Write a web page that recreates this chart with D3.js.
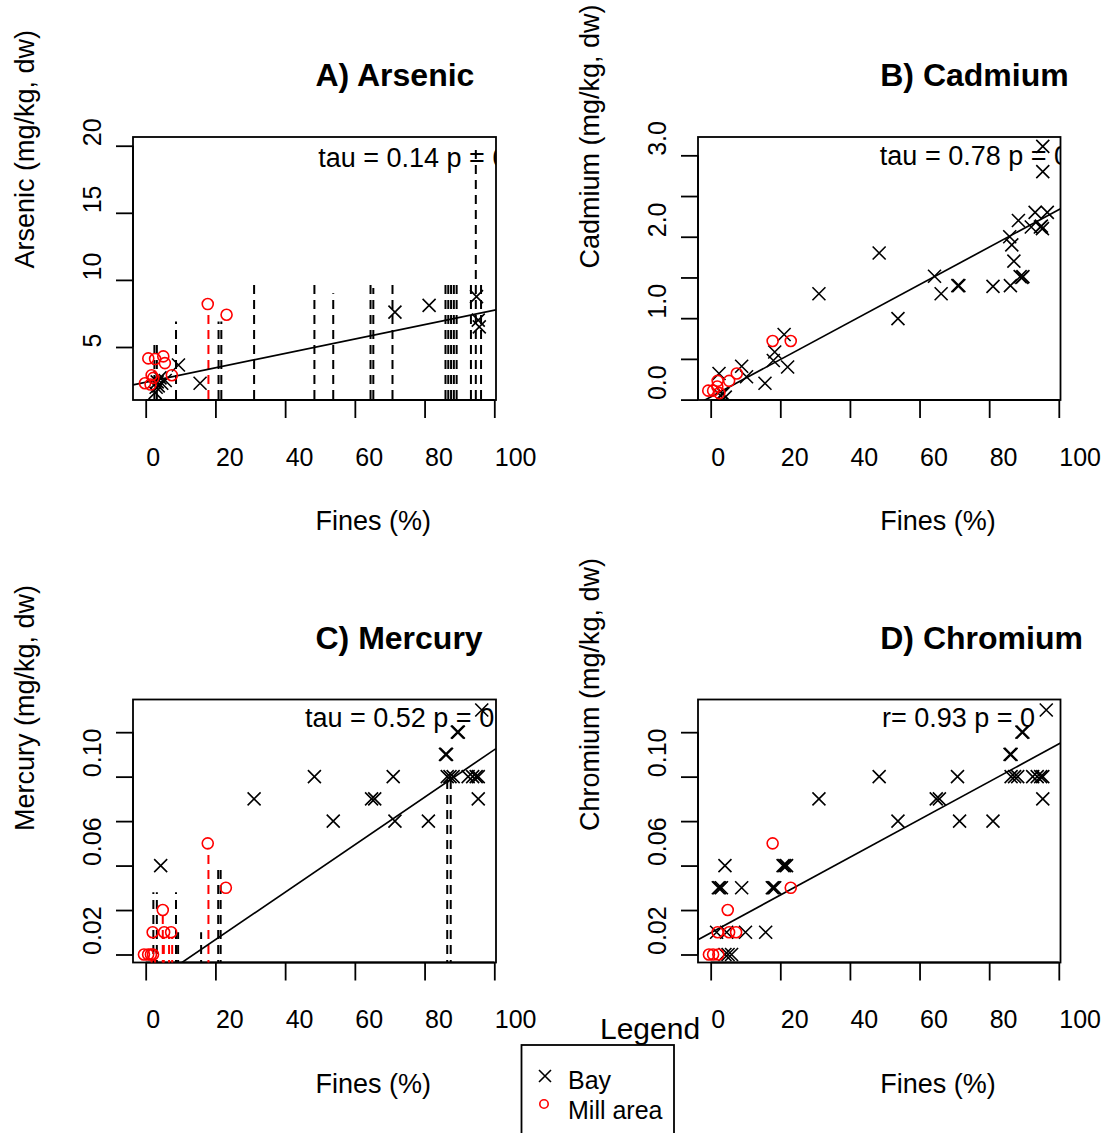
<!DOCTYPE html>
<html><head><meta charset="utf-8">
<script src="https://cdn.jsdelivr.net/npm/d3@7"></script>
<style>
body{margin:0;background:#fff}
text{font-family:"Liberation Sans",Arial,Helvetica,sans-serif;fill:#000}
</style>
</head><body>
<svg id="chart" width="1105" height="1133"></svg>
<script>
// ---------------- DATA ----------------
const xTicks = [0, 20, 40, 60, 80, 100];
const xTickLabels = ["0", "20", "40", "60", "80", "100"];
const panelTitles = ["A) Arsenic", "B) Cadmium", "C) Mercury", "D) Chromium"];
const yTitles = ["Arsenic (mg/kg, dw)", "Cadmium (mg/kg, dw)", "Mercury (mg/kg, dw)", "Chromium (mg/kg, dw)"];
const xTitle = "Fines (%)";
const statsText = ["tau = 0.14 p = 0", "tau = 0.78 p = 0", "tau = 0.52 p = 0", "r= 0.93 p = 0"];
const statsX = [49.5, 48.6, 45.7, 49.2];
const statsY = [19.1, 3.0, 0.1265, 0.1265];

const yTicksA = [5, 10, 15, 20];
const yLabelsA = ["5", "10", "15", "20"];
const yTicksB = [0, 0.5, 1, 1.5, 2, 2.5, 3];
const yLabelsB = ["0.0", "", "1.0", "", "2.0", "", "3.0"];
const yTicksC = [0.02, 0.04, 0.06, 0.08, 0.10, 0.12];
const yLabelsC = ["0.02", "", "0.06", "", "0.10", ""];
const yTicksD = [0.02, 0.04, 0.06, 0.08, 0.10, 0.12];
const yLabelsD = ["0.02", "", "0.06", "", "0.10", ""];

// Arsenic
const arsenicBay = [[2.7,1.6],[3.0,2.0],[3.6,2.1],[4.6,2.3],[5.6,2.5],[4.1,2.7],[3.3,2.4],[9.4,3.66],[15.6,2.3],
  [71.5,7.6],[81.3,8.1],[94.9,8.75],[95.4,7.0],[95.7,6.5]];
const arsenicMill = [[0.75,4.15],[2.7,4.1],[5.05,4.3],[5.5,3.8],[7.5,2.9],[-0.2,2.3],[1.7,2.9],[2.2,2.7],[1.4,2.2],
  [17.8,8.2],[23.2,7.4]];
const arsenicBayCens = [[2.5,5.6],[3.2,5.6],[8.7,6.9],[20.9,6.9],[21.7,6.9],[31.1,10],[48.4,10],[53.8,9.0],
  [64.5,10],[65.3,9.4],[70.8,10],[86.0,10],[86.8,10],[87.6,10],[88.4,10],[89.2,10],[93.3,10],[94.7,20],[96.2,10]];
const arsenicMillCens = [[18.0,7.6]];

// Cadmium
const cadmiumBay = [[48.4,1.80],[31.1,1.30],[21.1,0.80],[18.4,0.585],[18.0,0.48],[22.1,0.40],[15.6,0.20],[8.9,0.41],
  [10.3,0.28],[2.4,0.32],[2.8,0.05],[3.5,0.07],[4.2,0.03],[53.8,0.995],[64.3,1.515],[66.2,1.30],[71.0,1.40],
  [71.3,1.40],[81.1,1.39],[86.1,1.40],[85.9,2.0],[86.5,1.90],[87.1,1.70],[88.4,2.20],[88.9,1.51],[89.4,1.50],
  [89.7,1.51],[93.2,2.30],[92.1,2.12],[94.7,2.12],[95.3,2.10],[95.0,2.13],[96.7,2.30],[95.4,3.11],[95.4,2.80]];
const cadmiumMill = [[17.8,0.72],[23.0,0.72],[7.5,0.32],[5.3,0.23],[2.0,0.23],[1.9,0.16],[-0.7,0.11],[0.7,0.11],[2.5,0.08]];
const cadmiumBayCens = [];
const cadmiumMillCens = [];

// Mercury
const mercuryBay = [[4.3,0.06],[31.1,0.09],[48.4,0.10],[89.7,0.12],[89.4,0.12],[86.3,0.11],[86.0,0.11],[96.4,0.13],
  [71.0,0.10],[86.5,0.10],[87.3,0.10],[88.2,0.10],[92.5,0.10],[93.8,0.10],[94.8,0.10],[95.4,0.10],
  [64.8,0.09],[65.7,0.09],[95.4,0.09],[53.8,0.08],[71.5,0.08],[81.1,0.08]];
const mercuryMill = [[17.8,0.07],[23.0,0.05],[4.9,0.04],[2.0,0.03],[5.3,0.03],[7.3,0.03],[-0.5,0.02],[0.7,0.02],[1.5,0.02],[2.1,0.02]];
const mercuryBayCens = [[2.2,0.048],[3.2,0.048],[8.7,0.048],[9.3,0.03],[15.9,0.03],[20.8,0.06],[21.5,0.06],[86.5,0.10],[87.5,0.10]];
const mercuryMillCens = [[18.0,0.068],[4.9,0.038],[5.2,0.028],[6.7,0.028],[7.6,0.028],[1.7,0.02],[2.7,0.02]];

// Chromium
const chromiumBay = [[31.1,0.09],[48.4,0.10],[4.1,0.06],[2.2,0.05],[2.6,0.05],[3.1,0.05],[8.9,0.05],[17.7,0.05],
  [18.0,0.05],[18.4,0.05],[20.8,0.06],[21.3,0.06],[21.8,0.06],[1.7,0.03],[4.6,0.03],[10.0,0.03],[15.8,0.03],
  [4.1,0.02],[5.0,0.02],[6.0,0.02],[70.9,0.10],[53.8,0.08],[71.5,0.08],[81.1,0.08],[64.8,0.09],[65.7,0.09],
  [95.4,0.09],[86.3,0.11],[86.0,0.11],[89.7,0.12],[89.4,0.12],[96.4,0.13],[86.3,0.10],[87.3,0.10],[88.2,0.10],
  [92.5,0.10],[93.8,0.10],[94.8,0.10],[95.4,0.10]];
const chromiumMill = [[17.8,0.07],[23.0,0.05],[4.9,0.04],[2.0,0.03],[5.3,0.03],[7.3,0.03],[-0.5,0.02],[0.7,0.02],[2.2,0.02]];
const chromiumBayCens = [];
const chromiumMillCens = [];

// trend lines: [intercept, slope]
const trendA = [2.37, 0.0537];
const trendB = [0.032, 0.0230];
const trendC = [0.0053, 0.001068];
const trendD = [0.0297, 0.00085];

const legendTitle = "Legend";
const legendLabels = ["Bay", "Mill area"];

// ---------------- LAYOUT ----------------
const panels = [
  {left:133, right:496, top:137, bottom:400, xDom:[-3.64,100.49], yDom:[1.05,20.65],
   yTicks:yTicksA, yLabels:yLabelsA, bay:arsenicBay, mill:arsenicMill, bayC:arsenicBayCens, millC:arsenicMillCens, trend:trendA},
  {left:698, right:1060.5, top:137, bottom:400, xDom:[-3.64,100.49], yDom:[-0.005,3.225],
   yTicks:yTicksB, yLabels:yLabelsB, bay:cadmiumBay, mill:cadmiumMill, bayC:cadmiumBayCens, millC:cadmiumMillCens, trend:trendB},
  {left:133, right:496, top:699.5, bottom:962.5, xDom:[-3.64,100.49], yDom:[0.0164,0.1347],
   yTicks:yTicksC, yLabels:yLabelsC, bay:mercuryBay, mill:mercuryMill, bayC:mercuryBayCens, millC:mercuryMillCens, trend:trendC},
  {left:698, right:1060.5, top:699.5, bottom:962.5, xDom:[-3.64,100.49], yDom:[0.0164,0.1347],
   yTicks:yTicksD, yLabels:yLabelsD, bay:chromiumBay, mill:chromiumMill, bayC:chromiumBayCens, millC:chromiumMillCens, trend:trendD}
];

const svg = d3.select("#chart");
svg.append("rect").attr("width",1105).attr("height",1133).attr("fill","#fff");

const crossPath = s => `M${-s},${-s}L${s},${s}M${-s},${s}L${s},${-s}`;

panels.forEach((p, i) => {
  const x = d3.scaleLinear().domain(p.xDom).range([p.left, p.right]);
  const y = d3.scaleLinear().domain(p.yDom).range([p.bottom, p.top]);
  const g = svg.append("g");
  const clipId = "clip" + i;
  svg.append("clipPath").attr("id", clipId).append("rect")
    .attr("x", p.left).attr("y", p.top).attr("width", p.right - p.left).attr("height", p.bottom - p.top);

  // x axis
  const xAxis = d3.axisBottom(x).tickValues(xTicks).tickSize(18).tickFormat("");
  const xg = g.append("g").attr("transform", `translate(0,${p.bottom})`).call(xAxis);
  xg.select(".domain").attr("d", `M${x(xTicks[0])},0H${x(xTicks[xTicks.length-1])}`).attr("stroke","#000").attr("stroke-width",1.8);
  xg.selectAll(".tick line").attr("stroke","#000").attr("stroke-width",1.8);
  xg.selectAll(".tick").append("text")
    .attr("x", 0).attr("y", 57).attr("dy", "0.35em")
    .attr("text-anchor", "start").attr("font-size", 25)
    .text((d, k) => xTickLabels[k]);

  // y axis
  const yAxis = d3.axisLeft(y).tickValues(p.yTicks).tickSize(17).tickFormat("");
  const yg = g.append("g").attr("transform", `translate(${p.left},0)`).call(yAxis);
  yg.select(".domain").attr("d", `M0,${y(p.yTicks[0])}V${y(p.yTicks[p.yTicks.length-1])}`).attr("stroke","#000").attr("stroke-width",1.8);
  yg.selectAll(".tick line").attr("stroke","#000").attr("stroke-width",1.8);
  yg.selectAll(".tick").append("text")
    .attr("transform", "translate(-41,0) rotate(-90)")
    .attr("dy", "0.35em")
    .attr("text-anchor", "start").attr("font-size", 25)
    .text((d, k) => p.yLabels[k]);

  // box
  g.append("rect").attr("x", p.left).attr("y", p.top)
    .attr("width", p.right - p.left).attr("height", p.bottom - p.top)
    .attr("fill", "none").attr("stroke", "#000").attr("stroke-width", 1.8);

  const cx = (p.left + p.right) / 2 - 1, cy = (p.top + p.bottom) / 2;
  // titles
  g.append("text").attr("x", cx + 2).attr("y", p.top - 62).attr("dy", "0.35em")
    .attr("font-size", 32).attr("font-weight", "bold").attr("text-anchor", "start").text(panelTitles[i]);
  g.append("text").attr("x", cx + 2).attr("y", p.bottom + 121).attr("dy", "0.35em")
    .attr("font-size", 27).attr("text-anchor", "start").text(xTitle);
  g.append("text").attr("transform", `translate(${p.left - 108},${cy}) rotate(-90)`).attr("dy", "0.35em")
    .attr("font-size", 27).attr("text-anchor", "start").text(yTitles[i]);

  const inner = g.append("g").attr("clip-path", `url(#${clipId})`);

  // censored (dashed) lines
  inner.selectAll(".cb").data(p.bayC).enter().append("line")
    .attr("x1", d => x(d[0])).attr("x2", d => x(d[0]))
    .attr("y1", y(0)).attr("y2", d => y(d[1]))
    .attr("stroke", "#000").attr("stroke-width", 2).attr("stroke-dasharray", "9,6");
  inner.selectAll(".cm").data(p.millC).enter().append("line")
    .attr("x1", d => x(d[0])).attr("x2", d => x(d[0]))
    .attr("y1", y(0)).attr("y2", d => y(d[1]))
    .attr("stroke", "#ff0000").attr("stroke-width", 2).attr("stroke-dasharray", "9,6");

  // trend line
  inner.append("line")
    .attr("x1", x(p.xDom[0])).attr("y1", y(p.trend[0] + p.trend[1] * p.xDom[0]))
    .attr("x2", x(p.xDom[1])).attr("y2", y(p.trend[0] + p.trend[1] * p.xDom[1]))
    .attr("stroke", "#000").attr("stroke-width", 1.7);

  // points
  inner.selectAll(".pb").data(p.bay).enter().append("path")
    .attr("transform", d => `translate(${x(d[0])},${y(d[1])})`)
    .attr("d", crossPath(6.5)).attr("stroke", "#000").attr("stroke-width", 1.6).attr("fill", "none");
  inner.selectAll(".pm").data(p.mill).enter().append("circle")
    .attr("cx", d => x(d[0])).attr("cy", d => y(d[1])).attr("r", 5.5)
    .attr("stroke", "#ff0000").attr("stroke-width", 1.6).attr("fill", "none");

  // stats text
  inner.append("text").attr("x", x(statsX[i])).attr("y", y(statsY[i])).attr("dy", "0.35em")
    .attr("font-size", 27).attr("text-anchor", "start").text(statsText[i]);
});

// legend
const lg = svg.append("g");
lg.append("text").attr("x", 600).attr("y", 1028).attr("dy", "0.35em").attr("font-size", 30).text(legendTitle);
lg.append("rect").attr("x", 521.5).attr("y", 1045).attr("width", 152.5).attr("height", 110)
  .attr("fill", "none").attr("stroke", "#000").attr("stroke-width", 1.8);
lg.append("path").attr("transform", "translate(545,1076)").attr("d", crossPath(6))
  .attr("stroke", "#000").attr("stroke-width", 1.6);
lg.append("circle").attr("cx", 544).attr("cy", 1104).attr("r", 4.2)
  .attr("stroke", "#ff0000").attr("stroke-width", 1.6).attr("fill", "none");
lg.selectAll(".lt").data(legendLabels).enter().append("text")
  .attr("x", 568).attr("y", (d, k) => 1080 + k * 30).attr("dy", "0.35em")
  .attr("font-size", 25).text(d => d);
</script>
</body></html>
